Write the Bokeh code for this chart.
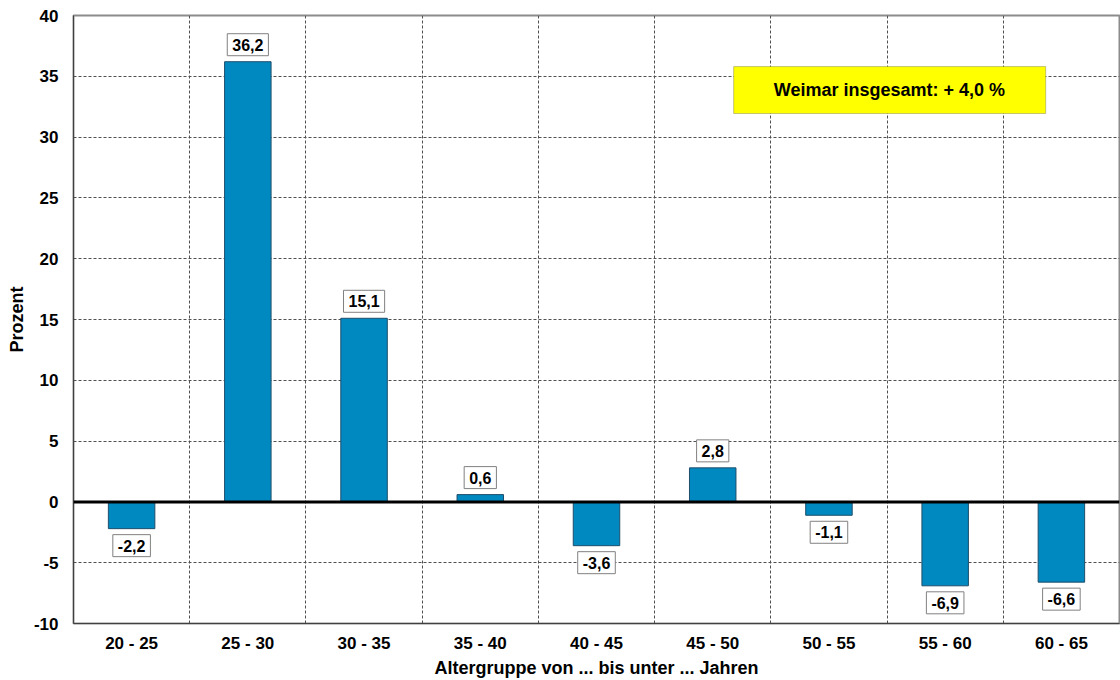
from bokeh.plotting import figure
from bokeh.models import (ColumnDataSource, FixedTicker, Range1d, Label,
                          Span, BoxAnnotation)
from bokeh.embed import file_html
from bokeh.resources import INLINE

categories = ["20 - 25", "25 - 30", "30 - 35", "35 - 40", "40 - 45",
              "45 - 50", "50 - 55", "55 - 60", "60 - 65"]
values = [-2.2, 36.2, 15.1, 0.6, -3.6, 2.8, -1.1, -6.9, -6.6]
y_ticks = [-10, -5, 0, 5, 10, 15, 20, 25, 30, 35, 40]
total_text = "Weimar insgesamt: + 4,0 %"

FONT = "Liberation Sans"
xs = list(range(len(categories)))
labels = [f"{v:.1f}".replace(".", ",") for v in values]

src = ColumnDataSource(dict(x=xs, top=values, label=labels))

p = figure(width=1120, height=680, output_backend="svg", toolbar_location=None,
           x_range=Range1d(-0.5, len(categories) - 0.5), y_range=Range1d(-10, 40),
           min_border_left=73, min_border_right=1, min_border_top=15, min_border_bottom=57)

p.background_fill_color = "white"
p.border_fill_color = "white"
p.outline_line_color = "#8c8c8c"
p.outline_line_width = 2

# grids
p.xgrid.ticker = FixedTicker(ticks=[i + 0.5 for i in range(len(categories) - 1)])
p.ygrid.ticker = FixedTicker(ticks=y_ticks)
for g in (p.xgrid, p.ygrid):
    g.grid_line_color = "#505050"
    g.grid_line_dash = "3 2"
    g.grid_line_width = 1

# axes
p.xaxis.ticker = FixedTicker(ticks=xs)
p.xaxis.major_label_overrides = {i: c for i, c in enumerate(categories)}
p.yaxis.ticker = FixedTicker(ticks=y_ticks)
p.yaxis.major_label_overrides = {t: str(t) for t in y_ticks}
for ax in (p.xaxis, p.yaxis):
    ax.major_tick_line_color = None
    ax.minor_tick_line_color = None
    ax.major_tick_in = 0
    ax.major_tick_out = 0
    ax.axis_line_color = "#404040"
    ax.axis_line_width = 1
    ax.major_label_text_font = FONT
    ax.major_label_text_font_style = "bold"
    ax.major_label_text_color = "black"
    ax.major_label_text_font_size = "17px"
    ax.axis_label_text_font = FONT
    ax.axis_label_text_font_style = "bold"
    ax.axis_label_text_color = "black"
p.xaxis.axis_label_text_font_size = "18px"
p.yaxis.axis_label_text_font_size = "18px"
p.xaxis.major_label_standoff = 10
p.yaxis.major_label_standoff = 15
p.xaxis.axis_label = "Altergruppe von ... bis unter ... Jahren"
p.yaxis.axis_label = "Prozent"
p.xaxis.axis_label_standoff = 2
p.yaxis.axis_label_standoff = 4

# bars
p.vbar(x="x", top="top", bottom=0, width=0.4, source=src,
       fill_color="#0088C0", line_color="#1F4E6B", line_width=1)

# zero line
p.add_layout(Span(location=0, dimension="width", line_color="black", line_width=3))

# value labels
for x, v, t in zip(xs, values, labels):
    p.add_layout(Label(x=x, y=v, text=t, y_offset=17 if v >= 0 else -17,
                       text_align="center", text_baseline="middle",
                       text_font=FONT, text_font_style="bold", text_font_size="16px",
                       text_color="black",
                       background_fill_color="white", border_line_color="#808080",
                       border_line_width=1, padding=5))

# total box
p.add_layout(BoxAnnotation(left=5.18, right=7.865, top=35.8, bottom=31.94,
                           fill_color="#FFFF00", fill_alpha=1.0,
                           line_color="#404040", line_width=1, level="annotation"))
p.add_layout(Label(x=6.52, y=33.87, text=total_text, text_align="center",
                   text_baseline="middle", text_font=FONT, text_font_style="bold",
                   text_font_size="18px", text_color="black"))

open("out.html", "w").write(file_html(p, INLINE))
